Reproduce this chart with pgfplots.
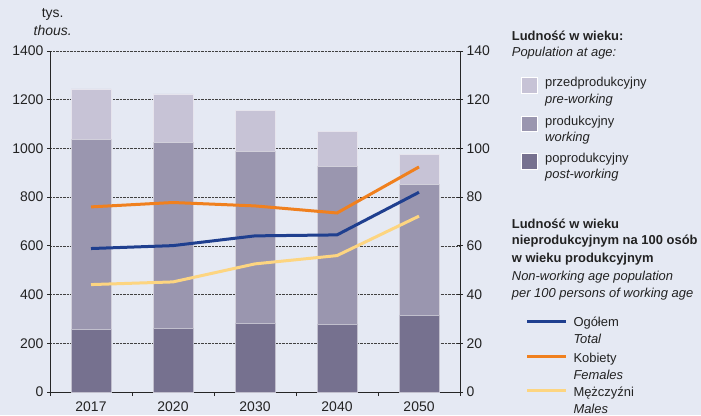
\documentclass[border=0pt]{standalone}
\usepackage{pgfplots}
\pgfplotsset{compat=1.18}
\usepackage{fontspec}
\setmainfont{Liberation Sans}

\definecolor{bg}{HTML}{E5E9F3}
\definecolor{prew}{HTML}{C7C3D6}
\definecolor{work}{HTML}{9A96AF}
\definecolor{postw}{HTML}{76718F}
\definecolor{ltotal}{HTML}{1F3F8F}
\definecolor{lfem}{HTML}{F0801E}
\definecolor{lmale}{HTML}{FDD580}
\definecolor{txt}{HTML}{222222}

\begin{document}
\begin{tikzpicture}[x=1bp,y=1bp,
    lg/.style={anchor=west, inner sep=0pt, text height=9.5bp, text depth=0pt,
               font=\fontsize{13}{15}\selectfont, text=txt}]
\fill[bg] (0,0) rectangle (701,415);

% population (left axis)
\begin{axis}[
    at={(50bp,23bp)}, anchor=south west,
    scale only axis, width=410bp, height=341bp,
    xmin=-0.5, xmax=4.5, ymin=0, ymax=1400,
    xtick={0,1,2,3,4},
    xticklabels={2017,2020,2030,2040,2050},
    minor xtick={-0.5,0.5,1.5,2.5,3.5,4.5},
    ytick={0,200,...,1400},
    axis x line*=bottom, axis y line*=left,
    axis line style={black!85, line width=0.8bp},
    ymajorgrids,
    major grid style={densely dotted, black!75, line width=0.7bp},
    tick align=outside, major tick length=3bp, minor tick length=4bp,
    tick style={black!85, line width=0.8bp},
    major x tick style={draw=none},
    ticklabel style={font=\fontsize{14}{16}\selectfont, text=txt},
    xticklabel style={yshift=-3bp},
    /pgf/number format/assume math mode=true,
    /pgf/number format/1000 sep={},
    ybar stacked, bar width=40bp,
]
\addplot[fill=postw, draw=white!55!postw, line width=0.5bp]
  coordinates {(0,258) (1,262) (2,283) (3,279) (4,316)};
\addplot[fill=work, draw=white!55!work, line width=0.5bp]
  coordinates {(0,780) (1,764) (2,706) (3,648) (4,536)};
\addplot[fill=prew, draw=white!55!prew, line width=0.5bp]
  coordinates {(0,207) (1,198) (2,167) (3,143) (4,123)};
\end{axis}

% ratios (right axis)
\begin{axis}[
    at={(50bp,23bp)}, anchor=south west,
    scale only axis, width=410bp, height=341bp,
    xmin=-0.5, xmax=4.5, ymin=0, ymax=140,
    axis x line=none, axis y line*=right,
    ytick={0,20,...,140},
    axis line style={black!85, line width=0.8bp},
    tick align=center, major tick length=6bp,
    tick style={black!85, line width=0.8bp},
    ticklabel style={font=\fontsize{14}{16}\selectfont, text=txt},
    /pgf/number format/assume math mode=true,
]
\addplot[lmale, line width=3bp]
  coordinates {(0,44.1) (1,45.2) (2,52.6) (3,56.0) (4,72.2)};
\addplot[lfem, line width=3bp]
  coordinates {(0,76.0) (1,77.8) (2,76.4) (3,73.5) (4,92.4)};
\addplot[ltotal, line width=3bp]
  coordinates {(0,58.9) (1,60.1) (2,64.1) (3,64.5) (4,82.0)};
\end{axis}

% unit label
\node[font=\fontsize{14}{16}\selectfont, text=txt, inner sep=0pt] at (52.7,401) {tys.};
\node[font=\fontsize{14}{16}\itshape\selectfont, text=txt, inner sep=0pt] at (52.7,384) {thous.};

% legend: bars
\node[lg, font=\fontsize{13}{15}\bfseries\selectfont] at (511.7,379) {Ludność w wieku:};
\node[lg, font=\fontsize{13}{15}\itshape\selectfont] at (511.7,363) {Population at age:};
\filldraw[fill=prew, draw=white, line width=1bp] (521.7,321.7) rectangle (537.7,337.3);
\filldraw[fill=work, draw=white, line width=1bp] (521.7,283.3) rectangle (537.7,299);
\filldraw[fill=postw, draw=white, line width=1bp] (521.7,246) rectangle (537.7,261.3);
\node[lg] at (545,333) {przedprodukcyjny};
\node[lg, font=\fontsize{13}{15}\itshape\selectfont] at (545,316) {pre-working};
\node[lg] at (545,294.3) {produkcyjny};
\node[lg, font=\fontsize{13}{15}\itshape\selectfont] at (545,278) {working};
\node[lg] at (545,257.3) {poprodukcyjny};
\node[lg, font=\fontsize{13}{15}\itshape\selectfont] at (545,241) {post-working};

% legend: lines
\node[lg, font=\fontsize{13}{15}\bfseries\selectfont] at (511.7,191) {Ludność w wieku};
\node[lg, font=\fontsize{13}{15}\bfseries\selectfont] at (511.7,175) {nieprodukcyjnym na 100 osób};
\node[lg, font=\fontsize{13}{15}\bfseries\selectfont] at (511.7,157) {w wieku produkcyjnym};
\node[lg, font=\fontsize{13}{15}\itshape\selectfont] at (511.7,139) {Non-working age population};
\node[lg, font=\fontsize{13}{15}\itshape\selectfont] at (511.7,122) {per 100 persons of working age};
\draw[ltotal, line width=3bp] (527.3,94) -- (566,94);
\draw[lfem, line width=3bp] (527.3,58.3) -- (566,58.3);
\draw[lmale, line width=3bp] (527.3,24.3) -- (566,24.3);
\node[lg] at (573.3,93) {Ogółem};
\node[lg, font=\fontsize{13}{15}\itshape\selectfont] at (573.3,76) {Total};
\node[lg] at (573.3,57.3) {Kobiety};
\node[lg, font=\fontsize{13}{15}\itshape\selectfont] at (573.3,40.3) {Females};
\node[lg] at (573.3,23) {Mężczyźni};
\node[lg, font=\fontsize{13}{15}\itshape\selectfont] at (573.3,6) {Males};
\end{tikzpicture}
\end{document}
